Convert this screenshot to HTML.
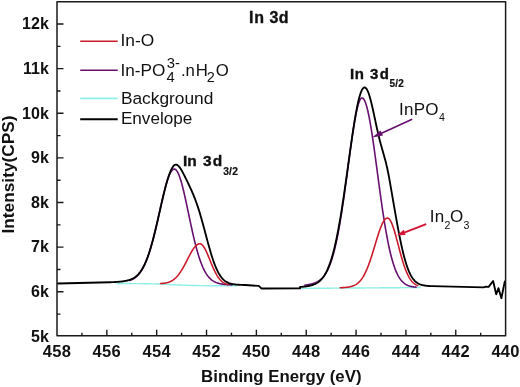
<!DOCTYPE html>
<html><head><meta charset="utf-8"><style>
html,body{margin:0;padding:0;background:#fff;width:520px;height:387px;overflow:hidden}
svg{display:block;will-change:transform}
text{font-family:"Liberation Sans",sans-serif}
.b{font-weight:bold}
</style></head><body>
<svg width="520" height="387" viewBox="0 0 520 387">
<g fill="none" stroke-linejoin="round" stroke-linecap="round">
<polyline points="117.00,283.52 118.00,283.53 119.00,283.53 120.00,283.53 121.00,283.53 122.00,283.54 123.00,283.54 124.00,283.54 125.00,283.54 126.00,283.55 127.00,283.55 128.00,283.56 129.00,283.56 130.00,283.57 131.00,283.57 132.00,283.58 133.00,283.59 134.00,283.59 135.00,283.60 136.00,283.61 137.00,283.62 138.00,283.63 139.00,283.64 140.00,283.65 141.00,283.66 142.00,283.67 143.00,283.69 144.00,283.70 145.00,283.72 146.00,283.74 147.00,283.75 148.00,283.77 149.00,283.79 150.00,283.82 151.00,283.84 152.00,283.87 153.00,283.89 154.00,283.92 155.00,283.95 156.00,283.98 157.00,284.01 158.00,284.05 159.00,284.08 160.00,284.12 161.00,284.16 162.00,284.20 163.00,284.24 164.00,284.28 165.00,284.32 166.00,284.37 167.00,284.41 168.00,284.46 169.00,284.51 170.00,284.55 171.00,284.60 172.00,284.65 173.00,284.70 174.00,284.75 175.00,284.79 176.00,284.84 177.00,284.89 178.00,284.93 179.00,284.98 180.00,285.02 181.00,285.06 182.00,285.10 183.00,285.14 184.00,285.18 185.00,285.22 186.00,285.25 187.00,285.29 188.00,285.32 189.00,285.35 190.00,285.38 191.00,285.41 192.00,285.43 193.00,285.46 194.00,285.48 195.00,285.51 196.00,285.53 197.00,285.55 198.00,285.56 199.00,285.58 200.00,285.60 201.00,285.61 202.00,285.63 203.00,285.64 204.00,285.65 205.00,285.66 206.00,285.67 207.00,285.68 208.00,285.69 209.00,285.70 210.00,285.71 211.00,285.71 212.00,285.72 213.00,285.73 214.00,285.73 215.00,285.74 216.00,285.74 217.00,285.75 218.00,285.75 219.00,285.76 220.00,285.76 221.00,285.76 222.00,285.76 223.00,285.77 224.00,285.77 225.00,285.77 226.00,285.77 227.00,285.78 228.00,285.78 229.00,285.78 230.00,285.78 231.00,285.78 232.00,285.78 233.00,285.79 234.00,285.79 235.00,285.79 236.00,285.79 237.00,285.79" stroke="#8ef0e4" stroke-width="1.4"/>
<polyline points="301.50,288.39 302.50,288.38 303.50,288.37 304.50,288.37 305.50,288.36 306.50,288.35 307.50,288.35 308.50,288.34 309.50,288.33 310.50,288.32 311.50,288.32 312.50,288.31 313.50,288.30 314.50,288.30 315.50,288.29 316.50,288.28 317.50,288.27 318.50,288.27 319.50,288.26 320.50,288.25 321.50,288.25 322.50,288.24 323.50,288.23 324.50,288.22 325.50,288.22 326.50,288.21 327.50,288.20 328.50,288.19 329.50,288.19 330.50,288.18 331.50,288.17 332.50,288.17 333.50,288.16 334.50,288.15 335.50,288.14 336.50,288.14 337.50,288.13 338.50,288.12 339.50,288.12 340.50,288.11 341.50,288.10 342.50,288.09 343.50,288.09 344.50,288.08 345.50,288.07 346.50,288.07 347.50,288.06 348.50,288.05 349.50,288.04 350.50,288.04 351.50,288.03 352.50,288.02 353.50,288.01 354.50,288.01 355.50,288.00 356.50,287.99 357.50,287.99 358.50,287.98 359.50,287.97 360.50,287.96 361.50,287.96 362.50,287.95 363.50,287.94 364.50,287.94 365.50,287.93 366.50,287.92 367.50,287.91 368.50,287.91 369.50,287.90 370.50,287.89 371.50,287.89 372.50,287.88 373.50,287.87 374.50,287.86 375.50,287.86 376.50,287.85 377.50,287.84 378.50,287.83 379.50,287.83 380.50,287.82 381.50,287.81 382.50,287.81 383.50,287.80 384.50,287.79 385.50,287.78 386.50,287.78 387.50,287.77 388.50,287.76 389.50,287.76 390.50,287.75 391.50,287.74 392.50,287.73 393.50,287.73 394.50,287.72 395.50,287.71 396.50,287.71 397.50,287.70 398.50,287.69 399.50,287.68 400.50,287.68 401.50,287.67 402.50,287.66 403.50,287.65 404.50,287.65 405.50,287.64 406.50,287.63 407.50,287.63 408.50,287.62 409.50,287.61 410.50,287.60 411.50,287.60 412.50,287.59 413.50,287.58 414.50,287.58 415.50,287.57 416.50,287.56 417.50,287.55 418.50,287.55 419.50,287.54 420.50,287.53" stroke="#8ef0e4" stroke-width="1.4"/>
<polyline points="130.00,280.42 130.50,280.23 131.00,280.03 131.50,279.82 132.00,279.58 132.50,279.33 133.00,279.07 133.50,278.78 134.00,278.47 134.50,278.14 135.00,277.79 135.50,277.41 136.00,277.01 136.50,276.58 137.00,276.13 137.50,275.64 138.00,275.12 138.50,274.57 139.00,273.99 139.50,273.37 140.00,272.71 140.50,272.02 141.00,271.29 141.50,270.51 142.00,269.70 142.50,268.84 143.00,267.94 143.50,266.99 144.00,265.99 144.50,264.95 145.00,263.86 145.50,262.72 146.00,261.53 146.50,260.29 147.00,258.99 147.50,257.65 148.00,256.25 148.50,254.80 149.00,253.30 149.50,251.74 150.00,250.14 150.50,248.48 151.00,246.78 151.50,245.02 152.00,243.22 152.50,241.37 153.00,239.48 153.50,237.55 154.00,235.57 154.50,233.55 155.00,231.50 155.50,229.42 156.00,227.30 156.50,225.16 157.00,223.00 157.50,220.81 158.00,218.61 158.50,216.40 159.00,214.18 159.50,211.96 160.00,209.73 160.50,207.52 161.00,205.31 161.50,203.12 162.00,200.96 162.50,198.81 163.00,196.70 163.50,194.63 164.00,192.60 164.50,190.62 165.00,188.70 165.50,186.83 166.00,185.03 166.50,183.30 167.00,181.65 167.50,180.07 168.00,178.59 168.50,177.20 169.00,175.90 169.50,174.70 170.00,173.61 170.50,172.63 171.00,171.76 171.50,171.01 172.00,170.38 172.50,169.87 173.00,169.48 173.50,169.22 174.00,169.09 174.50,169.08 175.00,169.21 175.50,169.48 176.00,169.90 176.50,170.45 177.00,171.13 177.50,171.95 178.00,172.90 178.50,173.98 179.00,175.18 179.50,176.49 180.00,177.92 180.50,179.45 181.00,181.08 181.50,182.81 182.00,184.63 182.50,186.53 183.00,188.50 183.50,190.55 184.00,192.66 184.50,194.82 185.00,197.03 185.50,199.29 186.00,201.58 186.50,203.90 187.00,206.25 187.50,208.61 188.00,210.99 188.50,213.37 189.00,215.75 189.50,218.13 190.00,220.49 190.50,222.84 191.00,225.17 191.50,227.48 192.00,229.76 192.50,232.00 193.00,234.21 193.50,236.38 194.00,238.51 194.50,240.59 195.00,242.62 195.50,244.61 196.00,246.54 196.50,248.41 197.00,250.24 197.50,252.00 198.00,253.71 198.50,255.36 199.00,256.96 199.50,258.49 200.00,259.96 200.50,261.38 201.00,262.74 201.50,264.04 202.00,265.29 202.50,266.47 203.00,267.61 203.50,268.68 204.00,269.71 204.50,270.69 205.00,271.61 205.50,272.49 206.00,273.31 206.50,274.10 207.00,274.83 207.50,275.53 208.00,276.19 208.50,276.80 209.00,277.38 209.50,277.92 210.00,278.43 210.50,278.91 211.00,279.35 211.50,279.77 212.00,280.16 212.50,280.52 213.00,280.86 213.50,281.17 214.00,281.46 214.50,281.73 215.00,281.98 215.50,282.21 216.00,282.43 216.50,282.63 217.00,282.82 217.50,282.99 218.00,283.14 218.50,283.29 219.00,283.43 219.50,283.55 220.00,283.66 220.50,283.77 221.00,283.87 221.50,283.96 222.00,284.04 222.50,284.12 223.00,284.19 223.50,284.26 224.00,284.32 224.50,284.38 225.00,284.43 225.50,284.48 226.00,284.52 226.50,284.56 227.00,284.60 227.50,284.64 228.00,284.67 228.50,284.70 229.00,284.73 229.50,284.76 230.00,284.79 230.50,284.81 231.00,284.83 231.50,284.86 232.00,284.88" stroke="#681070" stroke-width="1.6"/>
<polyline points="305.00,285.14 305.50,285.07 306.00,285.00 306.50,284.93 307.00,284.85 307.50,284.77 308.00,284.68 308.50,284.59 309.00,284.50 309.50,284.40 310.00,284.29 310.50,284.18 311.00,284.06 311.50,283.94 312.00,283.81 312.50,283.67 313.00,283.52 313.50,283.36 314.00,283.19 314.50,283.01 315.00,282.82 315.50,282.61 316.00,282.40 316.50,282.16 317.00,281.91 317.50,281.65 318.00,281.36 318.50,281.06 319.00,280.73 319.50,280.38 320.00,280.01 320.50,279.61 321.00,279.18 321.50,278.73 322.00,278.24 322.50,277.72 323.00,277.17 323.50,276.58 324.00,275.95 324.50,275.28 325.00,274.57 325.50,273.81 326.00,273.00 326.50,272.15 327.00,271.24 327.50,270.27 328.00,269.25 328.50,268.17 329.00,267.03 329.50,265.83 330.00,264.55 330.50,263.21 331.00,261.80 331.50,260.32 332.00,258.76 332.50,257.12 333.00,255.40 333.50,253.60 334.00,251.73 334.50,249.76 335.00,247.72 335.50,245.58 336.00,243.36 336.50,241.05 337.00,238.66 337.50,236.18 338.00,233.61 338.50,230.95 339.00,228.21 339.50,225.38 340.00,222.47 340.50,219.47 341.00,216.40 341.50,213.25 342.00,210.03 342.50,206.74 343.00,203.38 343.50,199.95 344.00,196.47 344.50,192.94 345.00,189.36 345.50,185.73 346.00,182.07 346.50,178.38 347.00,174.67 347.50,170.94 348.00,167.21 348.50,163.47 349.00,159.75 349.50,156.04 350.00,152.36 350.50,148.71 351.00,145.12 351.50,141.57 352.00,138.09 352.50,134.69 353.00,131.38 353.50,128.16 354.00,125.05 354.50,122.06 355.00,119.19 355.50,116.47 356.00,113.90 356.50,111.49 357.00,109.25 357.50,107.19 358.00,105.31 358.50,103.64 359.00,102.17 359.50,100.91 360.00,99.87 360.50,99.05 361.00,98.45 361.50,98.09 362.00,97.95 362.50,98.04 363.00,98.32 363.50,98.81 364.00,99.49 364.50,100.37 365.00,101.45 365.50,102.71 366.00,104.16 366.50,105.79 367.00,107.59 367.50,109.57 368.00,111.71 368.50,114.01 369.00,116.46 369.50,119.06 370.00,121.79 370.50,124.65 371.00,127.63 371.50,130.72 372.00,133.92 372.50,137.21 373.00,140.58 373.50,144.04 374.00,147.55 374.50,151.13 375.00,154.76 375.50,158.43 376.00,162.13 376.50,165.85 377.00,169.59 377.50,173.33 378.00,177.07 378.50,180.81 379.00,184.52 379.50,188.21 380.00,191.88 380.50,195.50 381.00,199.08 381.50,202.62 382.00,206.09 382.50,209.51 383.00,212.87 383.50,216.15 384.00,219.37 384.50,222.51 385.00,225.57 385.50,228.55 386.00,231.44 386.50,234.25 387.00,236.98 387.50,239.61 388.00,242.16 388.50,244.62 389.00,246.98 389.50,249.26 390.00,251.45 390.50,253.55 391.00,255.56 391.50,257.49 392.00,259.33 392.50,261.09 393.00,262.76 393.50,264.35 394.00,265.87 394.50,267.30 395.00,268.66 395.50,269.95 396.00,271.17 396.50,272.32 397.00,273.41 397.50,274.43 398.00,275.39 398.50,276.30 399.00,277.15 399.50,277.94 400.00,278.68 400.50,279.38 401.00,280.03 401.50,280.63 402.00,281.20 402.50,281.72 403.00,282.21 403.50,282.66 404.00,283.08 404.50,283.47 405.00,283.82 405.50,284.15 406.00,284.46 406.50,284.74 407.00,285.00 407.50,285.23 408.00,285.45 408.50,285.65 409.00,285.83 409.50,286.00 410.00,286.15 410.50,286.29 411.00,286.41 411.50,286.53 412.00,286.63 412.50,286.72 413.00,286.81 413.50,286.88 414.00,286.95 414.50,287.01 415.00,287.07 415.50,287.12 416.00,287.16" stroke="#681070" stroke-width="1.6"/>
<polyline points="160.50,283.56 161.00,283.53 161.50,283.50 162.00,283.47 162.50,283.42 163.00,283.38 163.50,283.32 164.00,283.26 164.50,283.19 165.00,283.11 165.50,283.02 166.00,282.92 166.50,282.82 167.00,282.70 167.50,282.56 168.00,282.42 168.50,282.26 169.00,282.08 169.50,281.89 170.00,281.69 170.50,281.46 171.00,281.22 171.50,280.95 172.00,280.67 172.50,280.36 173.00,280.03 173.50,279.68 174.00,279.30 174.50,278.90 175.00,278.47 175.50,278.02 176.00,277.54 176.50,277.03 177.00,276.49 177.50,275.92 178.00,275.33 178.50,274.71 179.00,274.05 179.50,273.37 180.00,272.66 180.50,271.93 181.00,271.16 181.50,270.37 182.00,269.56 182.50,268.72 183.00,267.85 183.50,266.97 184.00,266.07 184.50,265.15 185.00,264.21 185.50,263.26 186.00,262.30 186.50,261.33 187.00,260.35 187.50,259.38 188.00,258.40 188.50,257.42 189.00,256.46 189.50,255.50 190.00,254.56 190.50,253.63 191.00,252.73 191.50,251.85 192.00,251.00 192.50,250.18 193.00,249.39 193.50,248.64 194.00,247.94 194.50,247.28 195.00,246.67 195.50,246.11 196.00,245.60 196.50,245.16 197.00,244.77 197.50,244.44 198.00,244.17 198.50,243.97 199.00,243.83 199.50,243.76 200.00,243.76 200.50,243.86 201.00,244.05 201.50,244.34 202.00,244.74 202.50,245.22 203.00,245.80 203.50,246.47 204.00,247.21 204.50,248.03 205.00,248.93 205.50,249.88 206.00,250.90 206.50,251.96 207.00,253.07 207.50,254.22 208.00,255.40 208.50,256.60 209.00,257.82 209.50,259.05 210.00,260.28 210.50,261.52 211.00,262.74 211.50,263.96 212.00,265.15 212.50,266.33 213.00,267.48 213.50,268.60 214.00,269.69 214.50,270.74 215.00,271.75 215.50,272.73 216.00,273.66 216.50,274.55 217.00,275.40 217.50,276.20 218.00,276.96 218.50,277.68 219.00,278.35 219.50,278.98 220.00,279.57 220.50,280.11 221.00,280.62 221.50,281.10 222.00,281.53 222.50,281.93 223.00,282.30 223.50,282.64 224.00,282.95 224.50,283.23 225.00,283.48 225.50,283.71 226.00,283.92 226.50,284.11 227.00,284.28 227.50,284.44 228.00,284.57" stroke="#cc1c2c" stroke-width="1.6"/>
<polyline points="340.20,287.74 340.70,287.72 341.20,287.70 341.70,287.68 342.20,287.66 342.70,287.63 343.20,287.60 343.70,287.57 344.20,287.54 344.70,287.50 345.20,287.46 345.70,287.41 346.20,287.36 346.70,287.31 347.20,287.25 347.70,287.18 348.20,287.11 348.70,287.03 349.20,286.94 349.70,286.84 350.20,286.73 350.70,286.61 351.20,286.48 351.70,286.34 352.20,286.19 352.70,286.02 353.20,285.83 353.70,285.63 354.20,285.41 354.70,285.17 355.20,284.90 355.70,284.62 356.20,284.31 356.70,283.98 357.20,283.62 357.70,283.23 358.20,282.81 358.70,282.36 359.20,281.87 359.70,281.35 360.20,280.80 360.70,280.20 361.20,279.57 361.70,278.90 362.20,278.18 362.70,277.42 363.20,276.62 363.70,275.77 364.20,274.87 364.70,273.93 365.20,272.93 365.70,271.89 366.20,270.81 366.70,269.67 367.20,268.49 367.70,267.26 368.20,265.98 368.70,264.66 369.20,263.29 369.70,261.89 370.20,260.44 370.70,258.95 371.20,257.43 371.70,255.88 372.20,254.30 372.70,252.69 373.20,251.07 373.70,249.42 374.20,247.76 374.70,246.10 375.20,244.43 375.70,242.76 376.20,241.10 376.70,239.45 377.20,237.83 377.70,236.22 378.20,234.65 378.70,233.12 379.20,231.62 379.70,230.18 380.20,228.79 380.70,227.46 381.20,226.20 381.70,225.01 382.20,223.90 382.70,222.88 383.20,221.94 383.70,221.09 384.20,220.34 384.70,219.69 385.20,219.15 385.70,218.71 386.20,218.38 386.70,218.17 387.20,218.06 387.70,218.08 388.20,218.23 388.70,218.54 389.20,218.99 389.70,219.58 390.20,220.32 390.70,221.18 391.20,222.17 391.70,223.28 392.20,224.50 392.70,225.83 393.20,227.25 393.70,228.77 394.20,230.36 394.70,232.03 395.20,233.75 395.70,235.53 396.20,237.36 396.70,239.21 397.20,241.09 397.70,242.99 398.20,244.90 398.70,246.80 399.20,248.70 399.70,250.59 400.20,252.45 400.70,254.28 401.20,256.08 401.70,257.84 402.20,259.56 402.70,261.23 403.20,262.85 403.70,264.41 404.20,265.91 404.70,267.36 405.20,268.74 405.70,270.07 406.20,271.32 406.70,272.52 407.20,273.65 407.70,274.72 408.20,275.73 408.70,276.67 409.20,277.56 409.70,278.39 410.20,279.16 410.70,279.88 411.20,280.55 411.70,281.17 412.20,281.74 412.70,282.26 413.20,282.75 413.70,283.19 414.20,283.60 414.70,283.97 415.20,284.30 415.70,284.61 416.20,284.89 416.70,285.14 417.20,285.37 417.70,285.57" stroke="#cc1c2c" stroke-width="1.6"/>
<polyline points="57.80,283.50 110.00,282.25 110.50,282.23 111.00,282.21 111.50,282.19 112.00,282.17 112.50,282.15 113.00,282.12 113.50,282.10 114.00,282.07 114.50,282.05 115.00,282.02 115.50,281.99 116.00,281.96 116.50,281.93 117.00,281.90 117.50,281.87 118.00,281.83 118.50,281.79 119.00,281.75 119.50,281.71 120.00,281.66 120.50,281.62 121.00,281.57 121.50,281.51 122.00,281.46 122.50,281.40 123.00,281.33 123.50,281.26 124.00,281.19 124.50,281.11 125.00,281.02 125.50,280.93 126.00,280.83 126.50,280.73 127.00,280.62 127.50,280.50 128.00,280.37 128.50,280.23 129.00,280.08 129.50,279.92 130.00,279.75 130.50,279.56 131.00,279.37 131.50,279.15 132.00,278.92 132.50,278.68 133.00,278.42 133.50,278.14 134.00,277.84 134.50,277.52 135.00,277.17 135.50,276.81 136.00,276.41 136.50,276.00 137.00,275.55 137.50,275.08 138.00,274.58 138.50,274.04 139.00,273.47 139.50,272.87 140.00,272.23 140.50,271.56 141.00,270.84 141.50,270.09 142.00,269.30 142.50,268.46 143.00,267.58 143.50,266.65 144.00,265.68 144.50,264.66 145.00,263.59 145.50,262.48 146.00,261.31 146.50,260.09 147.00,258.83 147.50,257.51 148.00,256.14 148.50,254.71 149.00,253.24 149.50,251.71 150.00,250.13 150.50,248.51 151.00,246.83 151.50,245.10 152.00,243.33 152.50,241.50 153.00,239.64 153.50,237.73 154.00,235.78 154.50,233.79 155.00,231.76 155.50,229.70 156.00,227.61 156.50,225.49 157.00,223.34 157.50,221.18 158.00,218.99 158.50,216.80 159.00,214.59 159.50,212.37 160.00,210.15 160.50,207.94 161.00,205.73 161.50,203.53 162.00,201.35 162.50,199.19 163.00,197.06 163.50,194.96 164.00,192.89 164.50,190.86 165.00,188.88 165.50,186.95 166.00,185.07 166.50,183.25 167.00,181.50 167.50,179.81 168.00,178.20 168.50,176.66 169.00,175.20 169.50,173.82 170.00,172.52 170.50,171.32 171.00,170.20 171.50,169.17 172.00,168.24 172.50,167.39 173.00,166.64 173.50,165.99 174.00,165.46 174.50,165.06 175.00,164.79 175.50,164.64 176.00,164.61 176.50,164.69 177.00,164.87 177.50,165.16 178.00,165.53 178.50,166.00 179.00,166.54 179.50,167.15 180.00,167.83 180.50,168.56 181.00,169.35 181.50,170.18 182.00,171.04 182.50,171.94 183.00,172.87 183.50,173.82 184.00,174.80 184.50,175.78 185.00,176.78 185.50,177.79 186.00,178.81 186.50,179.84 187.00,180.87 187.50,181.90 188.00,182.95 188.50,183.99 189.00,185.05 189.50,186.11 190.00,187.19 190.50,188.27 191.00,189.37 191.50,190.48 192.00,191.61 192.50,192.76 193.00,193.94 193.50,195.14 194.00,196.36 194.50,197.62 195.00,198.90 195.50,200.22 196.00,201.58 196.50,202.97 197.00,204.39 197.50,205.86 198.00,207.36 198.50,208.90 199.00,210.48 199.50,212.10 200.00,213.75 200.50,215.43 201.00,217.15 201.50,218.90 202.00,220.68 202.50,222.48 203.00,224.30 203.50,226.15 204.00,228.00 204.50,229.88 205.00,231.75 205.50,233.64 206.00,235.52 206.50,237.40 207.00,239.27 207.50,241.13 208.00,242.97 208.50,244.79 209.00,246.59 209.50,248.37 210.00,250.11 210.50,251.82 211.00,253.49 211.50,255.12 212.00,256.71 212.50,258.25 213.00,259.75 213.50,261.20 214.00,262.60 214.50,263.95 215.00,265.25 215.50,266.50 216.00,267.69 216.50,268.83 217.00,269.92 217.50,270.95 218.00,271.94 218.50,272.87 219.00,273.75 219.50,274.58 220.00,275.37 220.50,276.11 221.00,276.80 221.50,277.45 222.00,278.05 222.50,278.62 223.00,279.15 223.50,279.64 224.00,280.09 224.50,280.52 225.00,280.91 225.50,281.27 226.00,281.60 226.50,281.90 227.00,282.19 227.50,282.44 228.00,282.68 228.50,282.90 229.00,283.09 229.50,283.28 230.00,283.44 230.50,283.59 231.00,283.73 231.50,283.85 232.00,283.96 232.50,284.07 233.00,284.16 233.50,284.24 234.00,284.32 234.50,284.39 235.00,284.45 235.50,284.51 236.00,284.56 236.50,284.61 237.00,284.65 237.50,284.69 238.00,284.73 238.50,284.76 239.00,284.79 239.50,284.82 240.00,284.84 240.50,284.87 241.00,284.89 241.50,284.91 242.00,284.93 242.50,284.95 243.00,284.96 243.50,284.98 244.00,284.99 244.50,285.01 245.00,285.02 258.70,285.90 261.60,288.50 300.00,288.40 300.00,286.98 300.50,286.95 301.00,286.91 301.50,286.88 302.00,286.84 302.50,286.79 303.00,286.75 303.50,286.70 304.00,286.65 304.50,286.60 305.00,286.54 305.50,286.48 306.00,286.42 306.50,286.35 307.00,286.28 307.50,286.20 308.00,286.11 308.50,286.02 309.00,285.93 309.50,285.83 310.00,285.71 310.50,285.60 311.00,285.47 311.50,285.33 312.00,285.19 312.50,285.03 313.00,284.86 313.50,284.68 314.00,284.48 314.50,284.27 315.00,284.05 315.50,283.81 316.00,283.55 316.50,283.28 317.00,282.98 317.50,282.66 318.00,282.32 318.50,281.96 319.00,281.57 319.50,281.16 320.00,280.71 320.50,280.24 321.00,279.74 321.50,279.20 322.00,278.63 322.50,278.02 323.00,277.38 323.50,276.69 324.00,275.96 324.50,275.19 325.00,274.38 325.50,273.51 326.00,272.59 326.50,271.63 327.00,270.61 327.50,269.53 328.00,268.40 328.50,267.21 329.00,265.95 329.50,264.63 330.00,263.25 330.50,261.80 331.00,260.28 331.50,258.70 332.00,257.04 332.50,255.30 333.00,253.50 333.50,251.62 334.00,249.66 334.50,247.62 335.00,245.51 335.50,243.32 336.00,241.05 336.50,238.70 337.00,236.27 337.50,233.77 338.00,231.18 338.50,228.52 339.00,225.78 339.50,222.97 340.00,220.09 340.50,217.13 341.00,214.10 341.50,211.01 342.00,207.85 342.50,204.63 343.00,201.36 343.50,198.03 344.00,194.64 344.50,191.21 345.00,187.74 345.50,184.24 346.00,180.69 346.50,177.13 347.00,173.54 347.50,169.93 348.00,166.31 348.50,162.69 349.00,159.08 349.50,155.47 350.00,151.88 350.50,148.31 351.00,144.78 351.50,141.28 352.00,137.82 352.50,134.42 353.00,131.09 353.50,127.82 354.00,124.62 354.50,121.51 355.00,118.50 355.50,115.58 356.00,112.77 356.50,110.07 357.00,107.49 357.50,105.05 358.00,102.74 358.50,100.57 359.00,98.55 359.50,96.68 360.00,94.97 360.50,93.43 361.00,92.06 361.50,90.86 362.00,89.84 362.50,88.99 363.00,88.33 363.50,87.86 364.00,87.56 364.50,87.45 365.00,87.52 365.50,87.78 366.00,88.22 366.50,88.84 367.00,89.63 367.50,90.59 368.00,91.72 368.50,93.00 369.00,94.42 369.50,95.99 370.00,97.69 370.50,99.50 371.00,101.43 371.50,103.45 372.00,105.56 372.50,107.74 373.00,109.98 373.50,112.27 374.00,114.59 374.50,116.94 375.00,119.29 375.50,121.64 376.00,123.98 376.50,126.29 377.00,128.57 377.50,130.81 378.00,133.00 378.50,135.14 379.00,137.22 379.50,139.24 380.00,141.21 380.50,143.12 381.00,144.98 381.50,146.80 382.00,148.58 382.50,150.34 383.00,152.08 383.50,153.83 384.00,155.59 384.50,157.38 385.00,159.21 385.50,161.11 386.00,163.07 386.50,165.13 387.00,167.28 387.50,169.55 388.00,171.94 388.50,174.45 389.00,177.09 389.50,179.87 390.00,182.71 390.50,185.57 391.00,188.44 391.50,191.32 392.00,194.21 392.50,197.11 393.00,200.01 393.50,202.90 394.00,205.79 394.50,208.68 395.00,211.54 395.50,214.39 396.00,217.22 396.50,220.03 397.00,222.80 397.50,225.54 398.00,228.23 398.50,230.89 399.00,233.50 399.50,236.05 400.00,238.55 400.50,240.99 401.00,243.37 401.50,245.68 402.00,247.93 402.50,250.10 403.00,252.21 403.50,254.24 404.00,256.19 404.50,258.07 405.00,259.87 405.50,261.59 406.00,263.23 406.50,264.80 407.00,266.29 407.50,267.71 408.00,269.05 408.50,270.31 409.00,271.51 409.50,272.63 410.00,273.69 410.50,274.68 411.00,275.61 411.50,276.48 412.00,277.29 412.50,278.04 413.00,278.74 413.50,279.39 414.00,279.99 414.50,280.55 415.00,281.06 415.50,281.53 416.00,281.96 416.50,282.36 417.00,282.72 417.50,283.06 418.00,283.36 418.50,283.64 419.00,283.89 419.50,284.12 420.00,284.33 420.50,284.52 421.00,284.70 421.50,284.85 422.00,285.00 422.50,285.13 423.00,285.24 423.50,285.35 424.00,285.44 424.50,285.53 425.00,285.61 425.50,285.68 426.00,285.74 426.50,285.80 427.00,285.86 427.50,285.90 428.00,285.95 428.50,285.99 429.00,286.03 429.50,286.06 430.00,286.09 430.50,286.12 431.00,286.15 431.50,286.17 432.00,286.19 483.60,287.30 485.90,286.70 488.60,286.90 493.10,281.00 496.20,294.30 498.50,288.20 501.40,298.20 504.80,281.40" stroke="#000" stroke-width="1.85"/>
</g>
<rect x="57" y="1.8" width="448.6" height="334" fill="none" stroke="#1a1a1a" stroke-width="1.5" stroke-linejoin="round"/>
<path d="M81.92 335.80V332.80M106.84 335.80V329.80M131.77 335.80V332.80M156.69 335.80V329.80M181.61 335.80V332.80M206.53 335.80V329.80M231.46 335.80V332.80M256.38 335.80V329.80M281.30 335.80V332.80M306.22 335.80V329.80M331.14 335.80V332.80M356.07 335.80V329.80M380.99 335.80V332.80M405.91 335.80V329.80M430.83 335.80V332.80M455.76 335.80V329.80M480.68 335.80V332.80M57.00 24.05H63.50M57.00 46.36H60.50M57.00 68.67H63.50M57.00 90.98H60.50M57.00 113.29H63.50M57.00 135.60H60.50M57.00 157.91H63.50M57.00 180.22H60.50M57.00 202.53H63.50M57.00 224.84H60.50M57.00 247.15H63.50M57.00 269.46H60.50M57.00 291.77H63.50M57.00 314.08H60.50" stroke="#1a1a1a" stroke-width="1.4" fill="none"/>
<g stroke-width="1.6" fill="none">
<path d="M80.2 41.2H117.7" stroke="#cc1c2c"/>
<path d="M80.2 70.3H117.7" stroke="#681070"/>
<path d="M80.2 98.4H117.7" stroke="#8ef0e4"/>
<path d="M80.2 119.3H117.7" stroke="#000" stroke-width="2"/>
</g>
<g font-size="16.75" fill="#111">
<text x="120.5" y="45.7" textLength="33.7" lengthAdjust="spacingAndGlyphs">In-O</text>
<text x="120.5" y="76" textLength="44.8" lengthAdjust="spacingAndGlyphs">In-PO</text>
<text x="166.4" y="81.6" font-size="14.8">4</text>
<text x="166.8" y="67.6" font-size="14.8">3</text>
<text x="175" y="67.6" font-size="14.8">-</text>
<text x="181" y="76">.</text>
<text x="185.6" y="76">n</text>
<text x="195.8" y="76">H</text>
<text x="206.7" y="81.6" font-size="14.5">2</text>
<text x="215.8" y="76">O</text>
<text x="120.9" y="103.5" textLength="92.5" lengthAdjust="spacingAndGlyphs">Background</text>
<text x="120.9" y="124.3" textLength="71.4" lengthAdjust="spacingAndGlyphs">Envelope</text>
</g>
<g class="b" font-size="16" fill="#111" stroke="#111" stroke-width="0.35">
<text x="249.1" y="22.6" letter-spacing="0.8">In</text>
<text x="269.6" y="22.6" letter-spacing="0.3">3d</text>
<text x="349.9" y="79.3" font-size="15" letter-spacing="0.7">In</text>
<text x="370" y="79.3" font-size="15" letter-spacing="1.3">3d</text>
<text x="182.9" y="165.8" font-size="15.5">In</text>
<text x="203" y="165.8" font-size="15.5" letter-spacing="1.1">3d</text>
</g>
<g class="b" font-size="10" fill="#111" letter-spacing="0.2" stroke="#111" stroke-width="0.2">
<text x="389.6" y="87">5/2</text>
<text x="223.2" y="174.6" font-size="10.3">3/2</text>
</g>
<g font-size="17" fill="#111">
<text x="398.9" y="114.6" letter-spacing="0.3">InPO</text>
<text x="429.8" y="221.6" letter-spacing="0.3">In</text>
<text x="449.9" y="221.6">O</text>
</g>
<g font-size="10.6" fill="#111">
<text x="438.9" y="121.4">4</text>
<text x="444.6" y="228.6">2</text>
<text x="463.5" y="228.6">3</text>
</g>
<path d="M411.6 119.5L381 133.5" stroke="#681070" stroke-width="1.7" fill="none" stroke-linecap="round"/>
<path d="M372.2 137.5L380.5 130.6L383 135.6Z" fill="#681070"/>
<path d="M425.5 224.3L403.5 232.8" stroke="#d41535" stroke-width="1.9" fill="none" stroke-linecap="round"/>
<path d="M396.9 235.3L403.8 229.8L405.6 234.9Z" fill="#d41535"/>
<g class="b" font-size="16.5" fill="#111" text-anchor="middle" letter-spacing="0.3"><text x="57.00" y="356.8">458</text><text x="106.84" y="356.8">456</text><text x="156.69" y="356.8">454</text><text x="206.53" y="356.8">452</text><text x="256.38" y="356.8">450</text><text x="306.22" y="356.8">448</text><text x="356.07" y="356.8">446</text><text x="405.91" y="356.8">444</text><text x="455.76" y="356.8">442</text><text x="505.60" y="356.8">440</text></g>
<g class="b" font-size="16" fill="#111" text-anchor="end"><text x="48.8" y="29.35">12k</text><text x="48.8" y="73.97">11k</text><text x="48.8" y="118.59">10k</text><text x="48.8" y="163.21">9k</text><text x="48.8" y="207.83">8k</text><text x="48.8" y="252.45">7k</text><text x="48.8" y="297.07">6k</text><text x="48.8" y="341.69">5k</text></g>
<text class="b" font-size="16.8" fill="#111" x="281.3" y="382" text-anchor="middle">Binding Energy (eV)</text>
<text class="b" font-size="17.3" fill="#111" transform="translate(14.4 174.5) rotate(-90)" text-anchor="middle">Intensity(CPS)</text>
</svg>
</body></html>
